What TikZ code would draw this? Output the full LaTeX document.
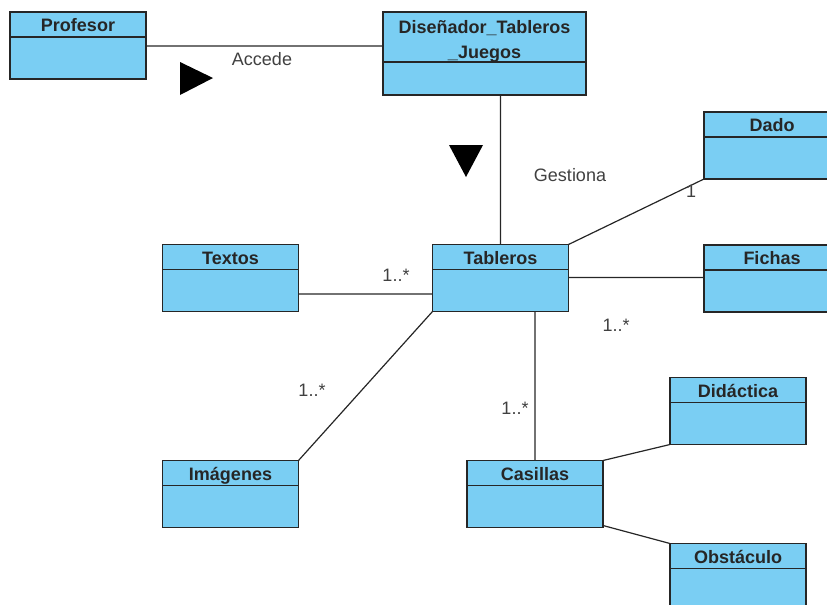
\documentclass[tikz,border=0pt]{standalone}
\usepackage{fontspec}
\setmainfont{Liberation Sans}
\usepackage{xcolor}
\usetikzlibrary{positioning}
\definecolor{umlfill}{RGB}{122,206,243}
\definecolor{umlline}{RGB}{38,38,38}

\begin{document}
\begin{tikzpicture}[x=0.75pt,y=-0.75pt]
	\tikzstyle{clshead}=[rectangle,draw=umlline,fill=umlfill,line width=1.1pt,minimum width=102pt,minimum height=18.75pt,inner sep=1pt,outer sep=0pt,text height=12.5pt,text depth=1.3pt,font=\fontsize{13.5}{18.75}\selectfont\bfseries,text=black!85]
	\tikzstyle{clsbody}=[rectangle,draw=umlline,fill=umlfill,line width=1.1pt,minimum width=102pt,minimum height=31.5pt,outer sep=0pt]
	\tikzstyle{lbl}=[font=\fontsize{13.5}{16}\selectfont,text=black!75,inner sep=0pt]
	\tikzstyle{assoc}=[draw=umlline,line width=0.9pt]
	\useasboundingbox (0,0) rectangle (827,604);

	% clases
	\node[clshead](profH) at (78,24.5){Profesor};
	\node[clsbody,below=0pt of profH](profB){};
	\node[clshead,minimum width=152.25pt,minimum height=37.5pt,text height=33.5pt,align=center](disH) at (484.5,37){Diseñador\_Tableros\\\_Juegos};
	\node[clsbody,minimum width=152.25pt,minimum height=24.75pt,below=0pt of disH](disB){};
	\node[clshead](tabH) at (500.5,257){Tableros};
	\node[clsbody,below=0pt of tabH](tabB){};
	\node[clshead](txtH) at (230.5,257){Textos};
	\node[clsbody,below=0pt of txtH](txtB){};
	\node[clshead](imgH) at (230.5,473){Imágenes};
	\node[clsbody,below=0pt of imgH](imgB){};
	\node[clshead](casH) at (535,473){Casillas};
	\node[clsbody,below=0pt of casH](casB){};
	\node[clshead](didH) at (738,390){Didáctica};
	\node[clsbody,below=0pt of didH](didB){};
	\node[clshead](obsH) at (738,556){Obstáculo};
	\node[clsbody,below=0pt of obsH](obsB){};
	\node[clshead](dadoH) at (772,124.5){Dado};
	\node[clsbody,below=0pt of dadoH](dadoB){};
	\node[clshead](ficH) at (772,257.5){Fichas};
	\node[clsbody,below=0pt of ficH](ficB){};

	% asociaciones
	\path[assoc]
		(profB.north east) ++(0,9) coordinate (accA) -- (accA -| disH.west)
		(tabH.north) -- (tabH.north |- disB.south)
		([yshift=-2.6pt]txtB.east) -- ([yshift=-2.6pt]txtB.east -| tabB.west)
		(tabB.south west) -- (imgH.north east)
		(casH.north) -- (casH.north |- tabB.south)
		(tabB.north east) ++(0,8) coordinate (ficA) -- (ficA -| ficB.west)
		(tabH.north east) -- (dadoB.south west)
		(casH.north east) -- (didB.south west)
		([yshift=1.5pt]casB.south east) -- (obsH.north west);

	% etiquetas
	\node[lbl](accede) at (262,59){Accede};
	\node[lbl](gestiona) at (570,175){Gestiona};
	\node[lbl](mTxt) at (396,275){1..*};
	\node[lbl](mImg) at (312,390){1..*};
	\node[lbl](mFic) at (616,325){1..*};
	\node[lbl](mCas) at (515,408){1..*};
	\node[lbl](mDado) at (691,191){1};

	% sentido de lectura
	\fill[black] (180,62) -- (213,78) -- (180,95) -- cycle;
	\fill[black] (449,145) -- (483,145) -- (466,177) -- cycle;
\end{tikzpicture}
\end{document}
